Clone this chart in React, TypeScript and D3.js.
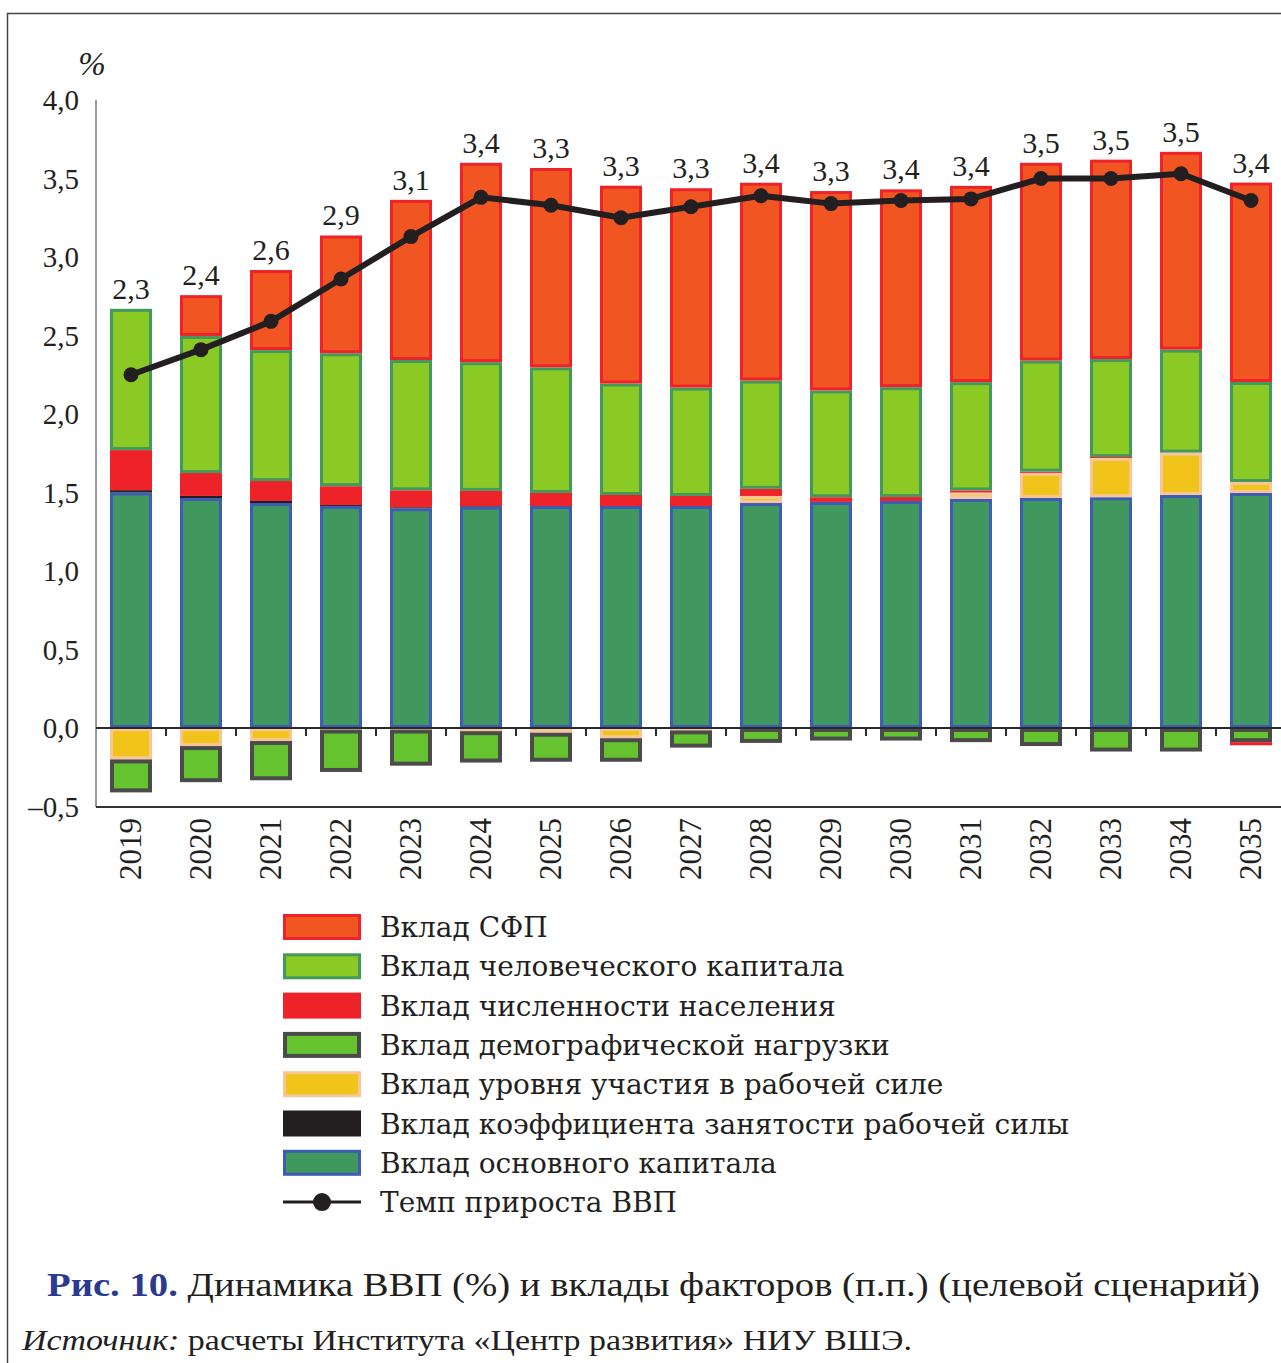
import * as d3 from "d3";

const years = ["2019", "2020", "2021", "2022", "2023", "2024", "2025", "2026", "2027", "2028", "2029", "2030", "2031", "2032", "2033", "2034", "2035"];
const fixedCapital = [1.5, 1.465, 1.433, 1.414, 1.4, 1.41, 1.414, 1.414, 1.414, 1.433, 1.44, 1.446, 1.46, 1.465, 1.47, 1.484, 1.497];
const employmentRate = [0.015, 0.013, 0.013, 0.006, 0.006, 0.004, 0, 0, 0, 0, 0, 0, 0, 0, 0, 0, 0];
const participation = [-0.2, -0.115, -0.083, -0.01, -0.01, -0.02, -0.03, -0.065, -0.015, 0.045, 0, 0, 0.04, 0.16, 0.25, 0.27, 0.07];
const demographic = [-0.21, -0.23, -0.25, -0.27, -0.23, -0.2, -0.185, -0.15, -0.11, -0.095, -0.08, -0.08, -0.09, -0.115, -0.15, -0.15, -0.09];
const population = [0.255, 0.146, 0.127, 0.12, 0.108, 0.096, 0.083, 0.07, 0.064, 0.045, 0.03, 0.025, 0.013, 0.008, 0.006, 0, -0.02];
const humanCapital = [0.9, 0.873, 0.834, 0.847, 0.83, 0.82, 0.8, 0.71, 0.69, 0.69, 0.68, 0.7, 0.69, 0.707, 0.624, 0.656, 0.637];
const tfp = [0, 0.26, 0.51, 0.75, 1.02, 1.27, 1.27, 1.26, 1.27, 1.26, 1.27, 1.26, 1.25, 1.26, 1.27, 1.26, 1.27];
const gdpGrowth = [2.25, 2.41, 2.59, 2.86, 3.13, 3.38, 3.33, 3.25, 3.32, 3.39, 3.34, 3.36, 3.37, 3.5, 3.5, 3.53, 3.36];
const gdpLabels = ["2,3", "2,4", "2,6", "2,9", "3,1", "3,4", "3,3", "3,3", "3,3", "3,4", "3,3", "3,4", "3,4", "3,5", "3,5", "3,5", "3,4"];
const yTicks = [-0.5, 0, 0.5, 1, 1.5, 2, 2.5, 3, 3.5, 4];
const yTickLabels = ["–0,5", "0,0", "0,5", "1,0", "1,5", "2,0", "2,5", "3,0", "3,5", "4,0"];

// stack order: positives grow up in this order, negatives grow down
const keys = ["fixed", "employment", "participation", "demographic", "population", "human", "tfp"];
const styles: Record<string, { fill: string; stroke: string; sw: number }> = {
  fixed: { fill: "#40985f", stroke: "#3c5cb5", sw: 3 },
  employment: { fill: "#231f20", stroke: "#231f20", sw: 0 },
  participation: { fill: "#f1c41c", stroke: "#f8c696", sw: 3 },
  demographic: { fill: "#66c330", stroke: "#4b4b4b", sw: 4 },
  population: { fill: "#ee2229", stroke: "#ee2229", sw: 0 },
  human: { fill: "#8bca25", stroke: "#43995b", sw: 3 },
  tfp: { fill: "#f15622", stroke: "#ee2229", sw: 3 },
};

const legendItems = [
  { key: "tfp", label: "Вклад СФП" },
  { key: "human", label: "Вклад человеческого капитала" },
  { key: "population", label: "Вклад численности населения" },
  { key: "demographic", label: "Вклад демографической нагрузки" },
  { key: "participation", label: "Вклад уровня участия в рабочей силе" },
  { key: "employment", label: "Вклад коэффициента занятости рабочей силы" },
  { key: "fixed", label: "Вклад основного капитала" },
  { key: "gdp", label: "Темп прироста ВВП" },
];

const W = 1281;
const H = 1363;
const FONT = "'Liberation Serif', 'Times New Roman', serif";
const LEGEND_FONT = "'DejaVu Serif', serif";
const INK = "#231f20";

export default function App() {
  const rows = years.map((y, i) => ({
    year: y,
    fixed: fixedCapital[i],
    employment: employmentRate[i],
    participation: participation[i],
    demographic: demographic[i],
    population: population[i],
    human: humanCapital[i],
    tfp: tfp[i],
  }));

  const x = d3.scaleBand().domain(years).range([96, 1286]).paddingInner(0.4).paddingOuter(0.2);
  const y = d3.scaleLinear().domain([-0.5, 4]).range([806.5, 100]);

  const series = d3
    .stack<any>()
    .keys(keys)
    .order(d3.stackOrderNone)
    .offset(d3.stackOffsetDiverging)(rows);

  const step = x.step();
  const bw = x.bandwidth();
  const cx = (yr: string) => (x(yr) || 0) + bw / 2;

  const tops = rows.map((r) =>
    keys.reduce((s, k) => s + Math.max(0, (r as any)[k]), 0)
  );

  const line = d3
    .line<number>()
    .x((_, i) => cx(years[i]))
    .y((d) => y(d));

  return (
    <svg
      width={W}
      height={H}
      style={{ position: "absolute", left: 0, top: 0, background: "#fff" }}
      fontFamily={FONT}
    >
      {/* frame */}
      <path d={`M7.5,${H} V13.5 H${W}`} fill="none" stroke="#444" strokeWidth={1.5} />

      {/* axes */}
      <line x1={96} x2={96} y1={100} y2={807} stroke="#777" strokeWidth={1.5} />
      <line x1={96} x2={W} y1={807} y2={807} stroke="#333" strokeWidth={2} />

      {yTicks.map((t, i) => (
        <text
          key={t}
          x={79}
          y={y(t)}
          dy="0.36em"
          textAnchor="end"
          fontSize={29}
          fill={INK}
        >
          {yTickLabels[i]}
        </text>
      ))}
      <text x={92} y={75} textAnchor="middle" fontSize={33} fontStyle="italic" fill={INK}>
        %
      </text>

      {/* bars */}
      {series.map((s) => {
        const st = styles[s.key];
        return (
          <g key={s.key}>
            {s.map((d, i) => {
              const y0 = y(Math.max(d[0], d[1]));
              const y1 = y(Math.min(d[0], d[1]));
              const h = y1 - y0;
              if (h < 0.3) return null;
              const xx = x(years[i]) || 0;
              const sw = Math.min(st.sw, h / 2);
              return (
                <rect
                  key={i}
                  x={xx + sw / 2}
                  y={y0 + sw / 2}
                  width={bw - sw}
                  height={Math.max(0, h - sw)}
                  fill={st.fill}
                  stroke={sw > 0 ? st.stroke : "none"}
                  strokeWidth={sw}
                />
              );
            })}
          </g>
        );
      })}

      {/* zero line and ticks */}
      <line x1={96} x2={W} y1={y(0)} y2={y(0)} stroke="#2a2a2a" strokeWidth={2} />
      {years.slice(1).map((yr) => (
        <line
          key={yr}
          x1={(x(yr) || 0) - (step - bw) / 2}
          x2={(x(yr) || 0) - (step - bw) / 2}
          y1={y(0)}
          y2={y(0) + 8}
          stroke="#2a2a2a"
          strokeWidth={2}
        />
      ))}

      {/* GDP line */}
      <path d={line(gdpGrowth) || ""} fill="none" stroke={INK} strokeWidth={6} strokeLinejoin="round" />
      {gdpGrowth.map((v, i) => (
        <circle key={i} cx={cx(years[i])} cy={y(v)} r={7.5} fill={INK} />
      ))}

      {/* value labels */}
      {gdpLabels.map((l, i) => (
        <text
          key={i}
          x={cx(years[i])}
          y={y(tops[i]) - 10}
          textAnchor="middle"
          fontSize={30}
          fill={INK}
        >
          {l}
        </text>
      ))}

      {/* year labels */}
      {years.map((yr) => (
        <text
          key={yr}
          transform={`translate(${cx(yr) + 10},818) rotate(-90)`}
          textAnchor="end"
          fontSize={31}
          fill={INK}
        >
          {yr}
        </text>
      ))}

      {/* legend */}
      {legendItems.map((it, i) => {
        const ly = 927 + i * 39.3;
        const sx = 283;
        const sWidth = 78;
        const sH = 26;
        let swatch;
        if (it.key === "gdp") {
          swatch = (
            <g>
              <line x1={sx} x2={sx + sWidth} y1={ly} y2={ly} stroke={INK} strokeWidth={3} />
              <circle cx={sx + sWidth / 2} cy={ly} r={9} fill={INK} />
            </g>
          );
        } else {
          const st = styles[it.key];
          const sw = st.sw || 0;
          swatch = (
            <rect
              x={sx + sw / 2}
              y={ly - sH / 2 + sw / 2}
              width={sWidth - sw}
              height={sH - sw}
              fill={st.fill}
              stroke={sw > 0 ? st.stroke : "none"}
              strokeWidth={sw}
            />
          );
        }
        return (
          <g key={it.key}>
            {swatch}
            <text x={380} y={ly} dy="0.36em" fontSize={28} fontFamily={LEGEND_FONT} fill={INK}>
              {it.label}
            </text>
          </g>
        );
      })}

      {/* caption */}
      <text x={47} y={1296} fontSize={34} fill={INK} textLength={1213} lengthAdjust="spacingAndGlyphs">
        <tspan fill="#2b3990" fontWeight="bold">Рис. 10.</tspan>
        <tspan> Динамика ВВП (%) и вклады факторов (п.п.) (целевой сценарий)</tspan>
      </text>
      <text x={22} y={1350} fontSize={29} fill={INK} textLength={890} lengthAdjust="spacingAndGlyphs">
        <tspan fontStyle="italic">Источник:</tspan>
        <tspan> расчеты Института «Центр развития» НИУ ВШЭ.</tspan>
      </text>
    </svg>
  );
}
